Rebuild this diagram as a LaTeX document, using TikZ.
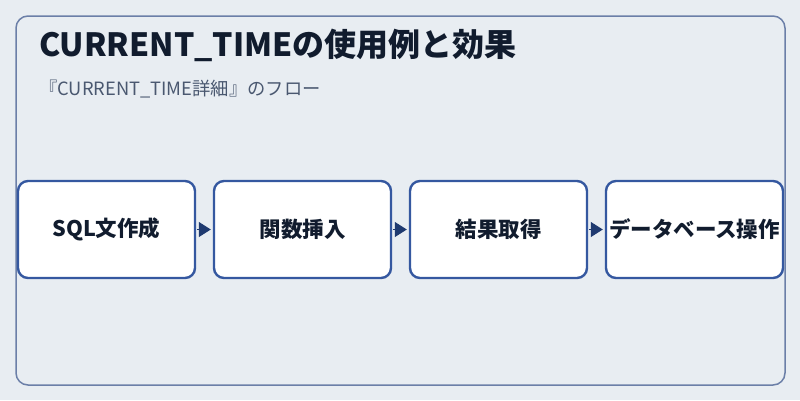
\documentclass[tikz,border=0pt]{standalone}
\usepackage{fontspec}
\setmainfont{Noto Sans CJK JP}
\usepackage{tikz}
\usetikzlibrary{arrows.meta}
\usetikzlibrary{positioning}

\definecolor{bgc}{HTML}{E8EDF2}
\definecolor{framec}{HTML}{6B7FA8}
\definecolor{boxc}{HTML}{3558A0}
\definecolor{arrowc}{HTML}{1F3A70}
\definecolor{titlec}{HTML}{111C2E}
\definecolor{subc}{HTML}{4A5870}

\begin{document}
\begin{tikzpicture}[x=1pt,y=-1pt,
		stepbox/.style={draw=boxc, line width=2.4pt, fill=white, rounded corners=10pt,
			minimum width=177pt, minimum height=97pt, inner sep=0pt,
			text=titlec, font=\bfseries\fontsize{21.5}{25}\selectfont},
		flow/.style={-{Triangle[length=12pt,width=15pt]}, draw=arrowc, fill=arrowc,
			line width=1pt, shorten <=1pt, shorten >=2pt}]
		\useasboundingbox (0,0) rectangle (800,400);
		\fill[bgc] (0,0) rectangle (800,400);
		\draw[framec, line width=1.5pt, rounded corners=12pt] (16,16) rectangle (785,385);
		
		\node[anchor=base west, inner sep=0pt, text=titlec, font=\bfseries\fontsize{32}{36}\selectfont] (title) at (39,56) {CURRENT\_TIMEの使用例と効果};
		\node[anchor=base west, inner sep=0pt, text=subc, font=\fontsize{18.3}{22}\selectfont] (sub) at (39,95) {『CURRENT\_TIME詳細』のフロー};
		
		\node[stepbox] (sql) at (106.5,229.5) {SQL文作成};
		\node[stepbox] (func) at (302.5,229.5) {関数挿入};
		\node[stepbox] (res) at (498.5,229.5) {結果取得};
		\node[stepbox] (db) at (694.5,229.5) {データベース操作};
		
		\draw[flow] (sql) -- (func);
		\draw[flow] (func) -- (res);
		\draw[flow] (res) -- (db);
		\end{tikzpicture}
\end{document}
